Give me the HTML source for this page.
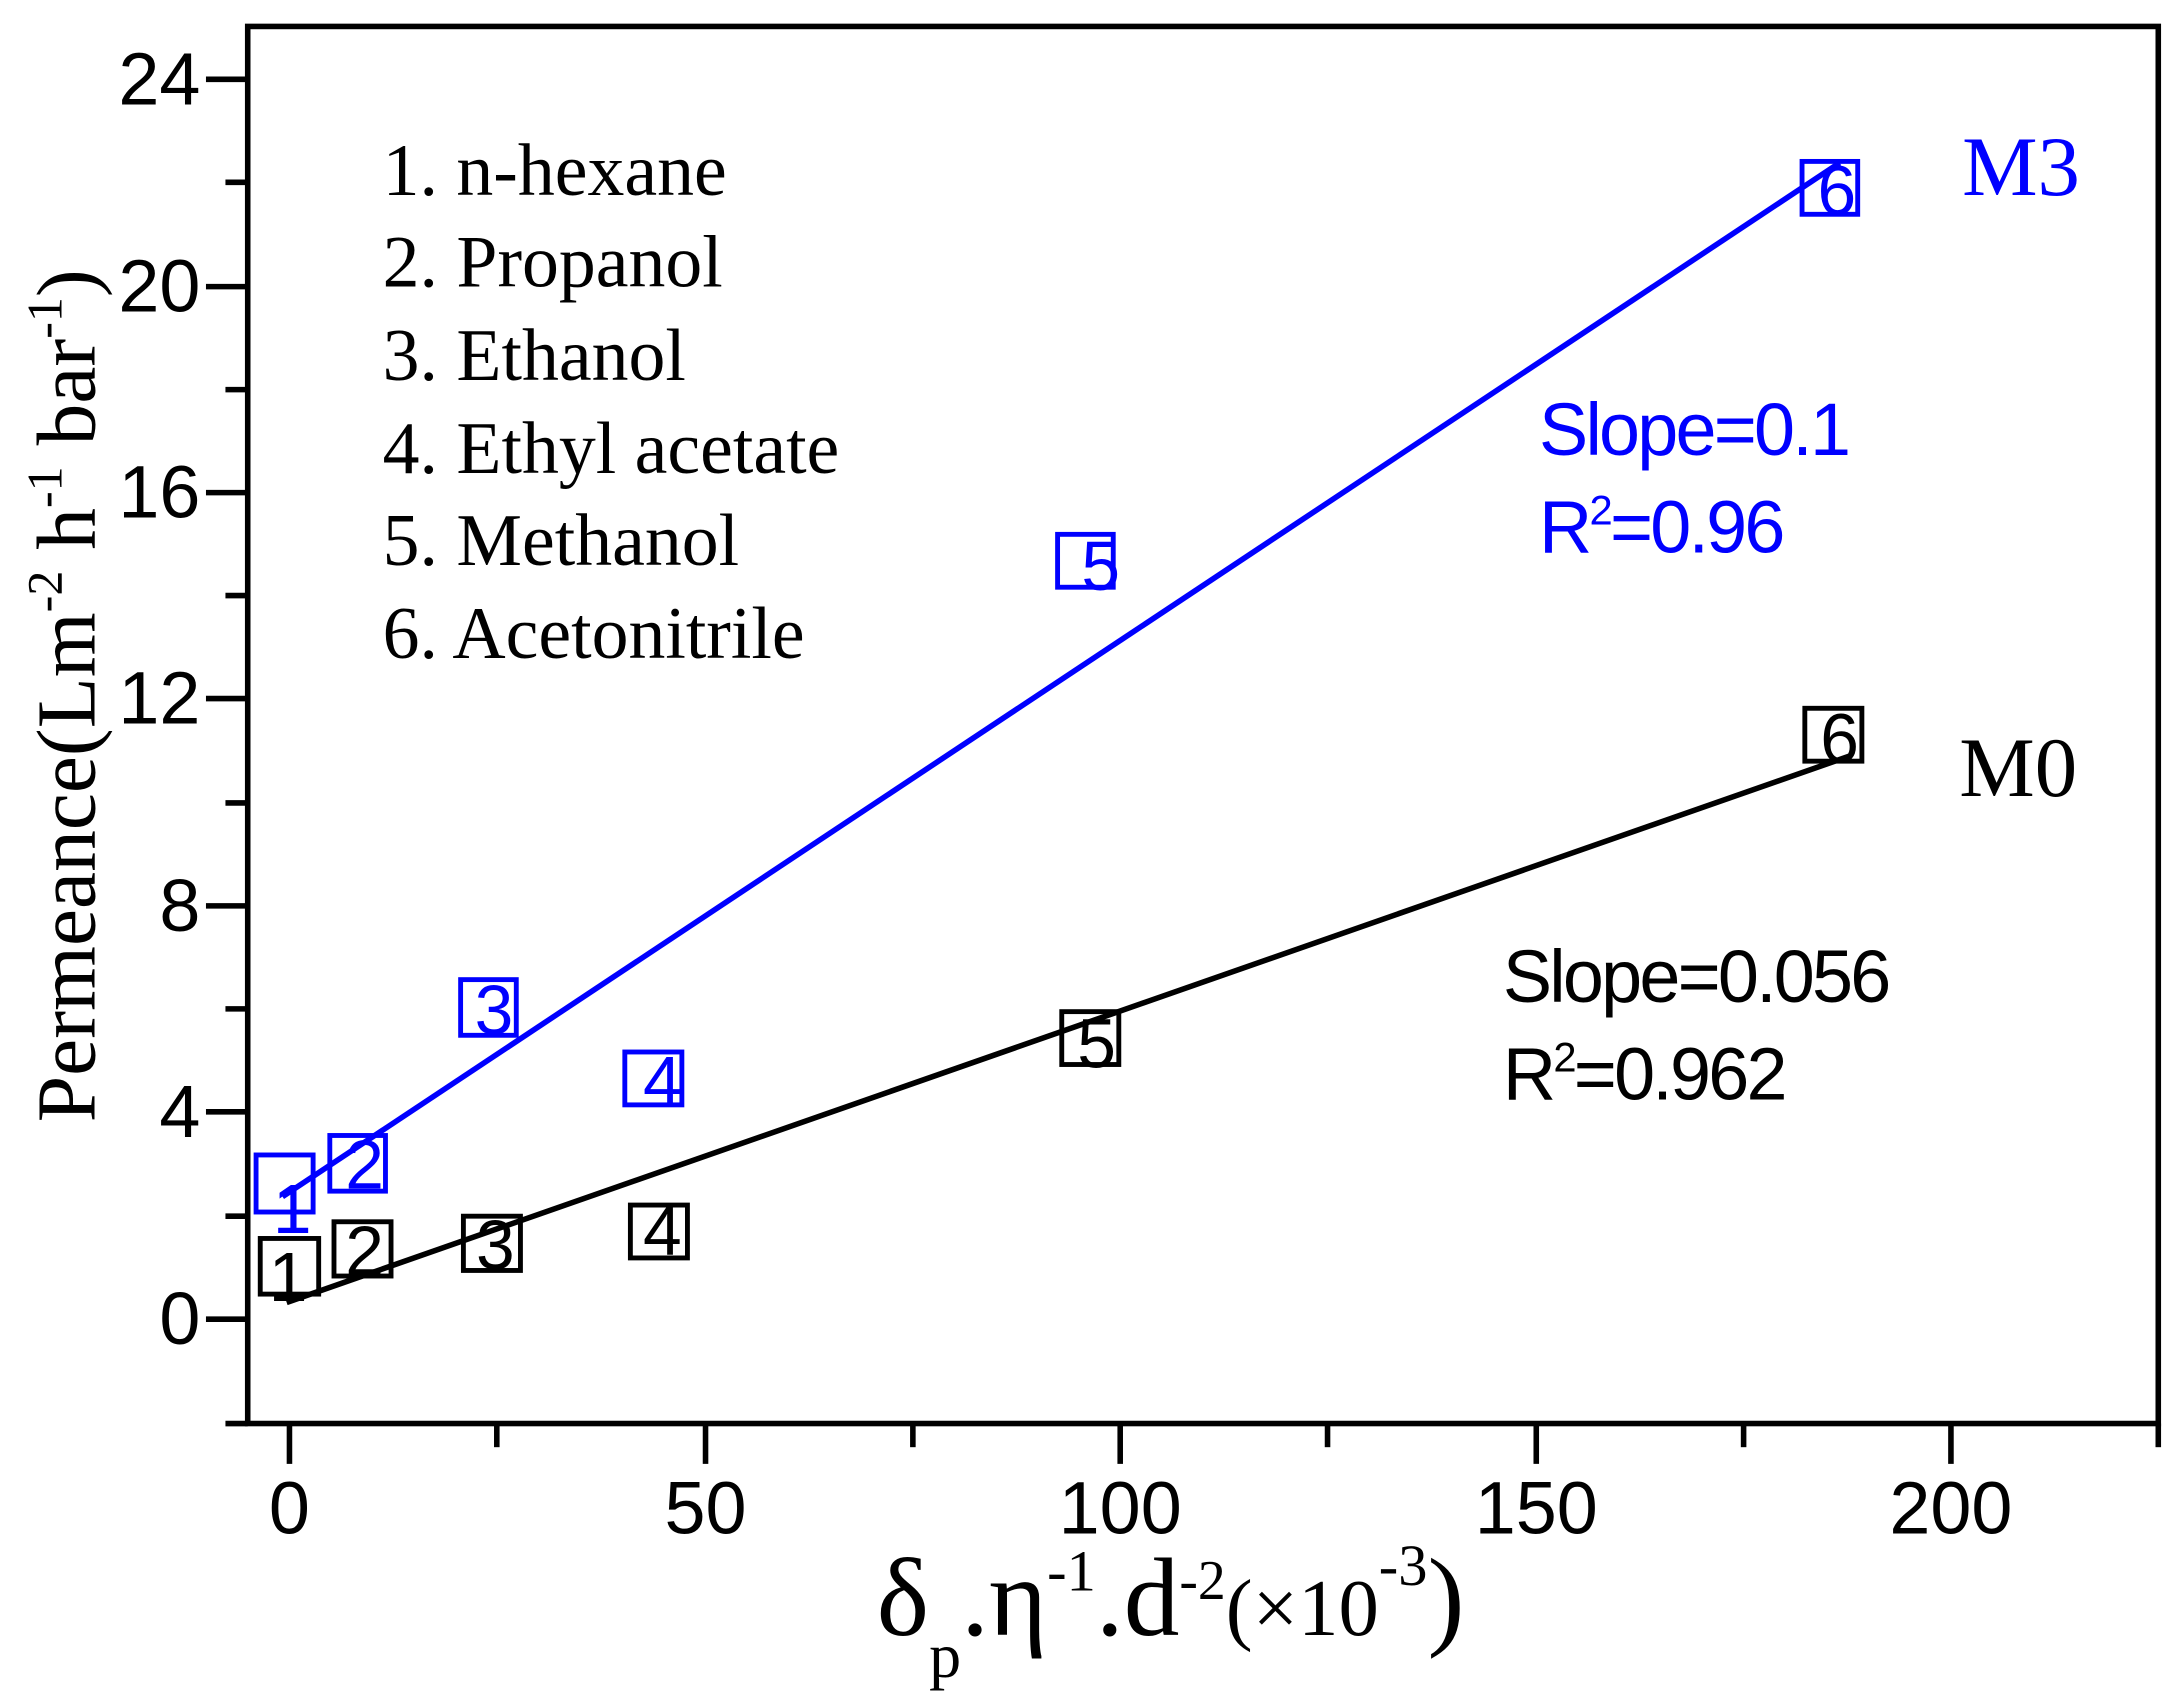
<!DOCTYPE html>
<html><head><style>html,body{margin:0;padding:0;background:#fff}svg{display:block}</style></head>
<body>
<svg width="2175" height="1701" viewBox="0 0 1563 1222.4" xmlns="http://www.w3.org/2000/svg">
<rect x="0" y="0" width="1563" height="1223" fill="#fff"/>
<g stroke="#000" stroke-width="4" fill="none">
<rect x="178" y="19" width="1373" height="1004"/>
<line x1="148" y1="57" x2="178" y2="57"/><line x1="162" y1="131" x2="178" y2="131"/>
<line x1="148" y1="206" x2="178" y2="206"/><line x1="162" y1="280" x2="178" y2="280"/>
<line x1="148" y1="354" x2="178" y2="354"/><line x1="162" y1="428" x2="178" y2="428"/>
<line x1="148" y1="502" x2="178" y2="502"/><line x1="162" y1="577" x2="178" y2="577"/>
<line x1="148" y1="651" x2="178" y2="651"/><line x1="162" y1="725" x2="178" y2="725"/>
<line x1="148" y1="799" x2="178" y2="799"/><line x1="162" y1="874" x2="178" y2="874"/>
<line x1="148" y1="948" x2="178" y2="948"/><line x1="162" y1="1023" x2="178" y2="1023"/>
<line x1="208" y1="1023" x2="208" y2="1052"/><line x1="357" y1="1023" x2="357" y2="1040"/>
<line x1="507" y1="1023" x2="507" y2="1052"/><line x1="656" y1="1023" x2="656" y2="1040"/>
<line x1="805" y1="1023" x2="805" y2="1052"/><line x1="954" y1="1023" x2="954" y2="1040"/>
<line x1="1104" y1="1023" x2="1104" y2="1052"/><line x1="1253" y1="1023" x2="1253" y2="1040"/>
<line x1="1402" y1="1023" x2="1402" y2="1052"/><line x1="1551" y1="1023" x2="1551" y2="1040"/>
</g>
<g font-family="Liberation Sans, sans-serif" font-size="53" fill="#000" text-anchor="end">
<text x="144" y="75">24</text><text x="144" y="224">20</text><text x="144" y="372">16</text>
<text x="144" y="520">12</text><text x="144" y="669">8</text><text x="144" y="817">4</text><text x="144" y="966">0</text>
</g>
<g font-family="Liberation Sans, sans-serif" font-size="53" fill="#000" text-anchor="middle">
<text x="208" y="1102">0</text><text x="507" y="1102">50</text><text x="805" y="1102">100</text>
<text x="1104" y="1102">150</text><text x="1402" y="1102">200</text>
</g>
<text transform="translate(68,500) rotate(-90)" text-anchor="middle" font-family="Liberation Serif, serif" font-size="60" fill="#000">Permeance(Lm<tspan dy="-24" font-size="36">-2</tspan><tspan dy="24"> h</tspan><tspan dy="-24" font-size="36">-1</tspan><tspan dy="24"> bar</tspan><tspan dy="-24" font-size="36">-1</tspan><tspan dy="24">)</tspan></text>
<text x="630" y="1175" font-family="Liberation Serif, serif" font-size="80" fill="#000">δ<tspan dy="30" font-size="46">p</tspan><tspan dy="-30">.η</tspan><tspan dy="-32" font-size="42">-1</tspan><tspan dy="32">.d</tspan><tspan dy="-26" font-size="40">-2</tspan><tspan dy="26" font-size="58">(×10</tspan><tspan dy="-36" font-size="42">-3</tspan><tspan dy="36" font-size="80">)</tspan></text>
<g font-family="Liberation Serif, serif" font-size="53" fill="#000">
<text x="275" y="140">1. n-hexane</text><text x="275" y="206">2. Propanol</text>
<text x="275" y="273">3. Ethanol</text><text x="275" y="340">4. Ethyl acetate</text>
<text x="275" y="406">5. Methanol</text><text x="275" y="473">6. Acetonitrile</text>
</g>
<text x="1410" y="140" font-family="Liberation Serif, serif" font-size="61" fill="#0000ff">M3</text>
<text x="1408" y="572" font-family="Liberation Serif, serif" font-size="61" fill="#000">M0</text>
<g font-family="Liberation Sans, sans-serif" font-size="53" letter-spacing="-2">
<text x="1106" y="327" fill="#0000ff">Slope=0.1</text>
<text x="1106" y="397" fill="#0000ff">R<tspan dy="-20" font-size="30">2</tspan><tspan dy="20">=0.96</tspan></text>
<text x="1080" y="720" fill="#000">Slope=0.056</text>
<text x="1080" y="790" fill="#000">R<tspan dy="-20" font-size="30">2</tspan><tspan dy="20">=0.962</tspan></text>
</g>
<line x1="203" y1="860" x2="1322" y2="117" stroke="#0000ff" stroke-width="4"/>
<line x1="206" y1="936" x2="1330" y2="543" stroke="#000" stroke-width="4"/>
<g fill="none" stroke="#0000ff" stroke-width="3.5">
<rect x="184" y="830" width="41" height="41"/><rect x="237" y="816" width="40" height="40"/>
<rect x="331" y="704" width="40" height="40"/><rect x="449" y="756" width="41" height="38"/>
<rect x="760" y="384" width="40" height="38"/><rect x="1295" y="116" width="40" height="38"/>
</g>
<g fill="none" stroke="#000" stroke-width="3.5">
<rect x="187" y="890" width="42" height="40"/><rect x="240" y="878" width="41" height="39"/>
<rect x="333" y="874" width="41" height="39"/><rect x="453" y="866" width="41" height="38"/>
<rect x="763" y="727" width="41" height="38"/><rect x="1297" y="509" width="41" height="38"/>
</g>
<g font-family="Liberation Sans, sans-serif" font-size="50" fill="#0000ff" text-anchor="middle">
<text x="210" y="886">1</text><text x="262" y="854">2</text><text x="355" y="743">3</text>
<text x="476" y="794">4</text><text x="791" y="424">5</text><text x="1320" y="154">6</text>
</g>
<g font-family="Liberation Sans, sans-serif" font-size="50" fill="#000" text-anchor="middle">
<text x="207" y="935">1</text><text x="262" y="916">2</text><text x="356" y="912">3</text>
<text x="476" y="902">4</text><text x="788" y="767">5</text><text x="1322" y="548">6</text>
</g>
</svg>
</body></html>
